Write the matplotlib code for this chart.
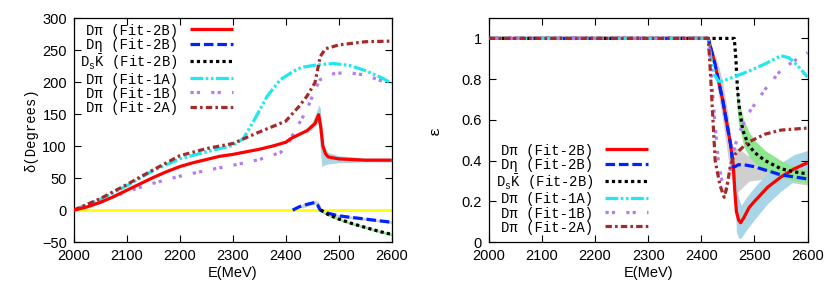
import matplotlib
matplotlib.use("Agg")
import matplotlib.pyplot as plt

plt.rcParams["mathtext.fontset"] = "custom"
plt.rcParams["mathtext.rm"] = "Liberation Mono"
plt.rcParams["mathtext.it"] = "Liberation Mono"

MONO = "Liberation Mono"
SANS = "Liberation Sans"

RED = "#ff0000"
BLUE = "#0022ff"
BLACK = "#000000"
CYAN = "#1ee8f0"
PURPLE = "#b37cf2"
BROWN = "#a52a2a"
YELLOW = "#ffff00"
LIGHTBLUE = "#a9d6e6"
GRAY = "#cfcfcf"
GREEN = "#8ee68e"

labels = ["D\u03c0 (Fit-2B)", "D\u03b7 (Fit-2B)", r"D$_{\rm s}\bar{\rm K}$ (Fit-2B)",
          "D\u03c0 (Fit-1A)", "D\u03c0 (Fit-1B)", "D\u03c0 (Fit-2A)"]

# ---- left panel: phase shift delta (degrees) ----
e_red = [2000, 2025, 2050, 2075, 2100, 2125, 2150, 2175, 2200, 2225, 2250, 2275, 2300, 2325,
         2350, 2375, 2400, 2410, 2420, 2440, 2455, 2462, 2466, 2470, 2475, 2480, 2500, 2550, 2600]
d_red = [0, 5, 12, 21, 31, 41, 51, 60, 68, 74, 79, 84, 87, 91,
         95, 100, 106, 112, 116, 124, 135, 149, 130, 100, 88, 83, 80, 78, 78]

e_blue = [2413, 2425, 2440, 2455, 2460, 2465, 2480, 2500, 2550, 2600]
d_blue = [0, 5, 9, 12, 8, 0, -5, -9, -14, -19]

e_black = [2466, 2480, 2500, 2525, 2550, 2575, 2600]
d_black = [0, -7, -14, -21, -27, -33, -38]

e_cyan = [2000, 2050, 2100, 2150, 2200, 2250, 2300, 2320, 2340, 2365, 2390, 2415,
          2430, 2460, 2490, 2520, 2550, 2580, 2600]
d_cyan = [0, 17, 38, 62, 80, 91, 101, 112, 140, 178, 204, 217,
          223, 227, 229, 226, 218, 207, 198]

e_purple = [2000, 2050, 2100, 2150, 2200, 2250, 2300, 2350, 2390, 2402, 2420, 2440,
            2455, 2465, 2490, 2515, 2550, 2600]
d_purple = [0, 13, 29, 42, 53, 62, 70, 79, 90, 100, 128, 157,
            188, 204, 213, 215, 211, 196]

e_brown = [2000, 2050, 2100, 2150, 2200, 2250, 2300, 2350, 2400, 2425, 2440, 2455,
           2465, 2475, 2500, 2550, 2600]
d_brown = [0, 18, 40, 63, 85, 96, 104, 122, 139, 162, 178, 199,
           240, 252, 258, 263, 264]

e_band_red = [2440, 2450, 2458, 2462, 2465, 2468, 2472, 2480, 2500, 2550, 2600]
d_band_red_lo = [120, 126, 133, 138, 95, 68, 70, 72, 74, 75, 75]
d_band_red_hi = [128, 138, 154, 164, 160, 118, 100, 90, 85, 81, 81]

e_band_blue = [2430, 2445, 2455, 2462, 2470, 2500, 2550, 2600]
d_band_blue_lo = [3, 7, 9, 4, -6, -11, -16, -21]
d_band_blue_hi = [9, 13, 16, 12, -2, -7, -12, -17]

e_band_black = [2466, 2480, 2500, 2525, 2550, 2575, 2600]
d_band_black_lo = [-2, -9, -16, -23, -29, -35, -40]
d_band_black_hi = [0, -5, -12, -19, -25, -31, -36]

# ---- right panel: inelasticity epsilon ----
e_red_r = [2000, 2413, 2425, 2440, 2455, 2460, 2463, 2466, 2470, 2474, 2480, 2490,
           2500, 2525, 2550, 2575, 2600]
eps_red = [1, 1, 0.88, 0.70, 0.48, 0.38, 0.25, 0.15, 0.11, 0.095, 0.12, 0.17,
           0.20, 0.27, 0.32, 0.36, 0.39]

e_blue_r = [2000, 2413, 2425, 2440, 2455, 2460, 2463, 2470, 2480, 2500, 2525, 2550, 2575, 2600]
eps_blue = [1, 1, 0.88, 0.70, 0.48, 0.37, 0.37, 0.38, 0.38, 0.37, 0.35, 0.33, 0.32, 0.31]

e_black_r = [2000, 2462, 2465, 2468, 2472, 2478, 2488, 2500, 2520, 2550, 2575, 2600]
eps_black = [1, 1, 0.90, 0.75, 0.65, 0.55, 0.48, 0.44, 0.40, 0.36, 0.345, 0.335]

e_cyan_r = [2000, 2413, 2418, 2425, 2432, 2440, 2460, 2490, 2520, 2550, 2565, 2580, 2600]
eps_cyan = [1, 1, 0.90, 0.82, 0.79, 0.79, 0.81, 0.84, 0.875, 0.915, 0.905, 0.87, 0.81]

e_purple_r = [2000, 2413, 2418, 2425, 2432, 2440, 2446, 2452, 2460, 2470, 2488, 2520,
              2550, 2575, 2600]
eps_purple = [1, 1, 0.85, 0.60, 0.40, 0.28, 0.25, 0.32, 0.44, 0.53, 0.63, 0.75,
              0.845, 0.89, 0.93]

e_brown_r = [2000, 2413, 2416, 2420, 2426, 2435, 2443, 2448, 2455, 2463, 2488, 2520, 2550, 2600]
eps_brown = [1, 1, 0.88, 0.69, 0.40, 0.28, 0.22, 0.27, 0.38, 0.43, 0.49, 0.53, 0.55, 0.56]

e_band_gray = [2415, 2420, 2430, 2440, 2450, 2458, 2462, 2470, 2490, 2520, 2550, 2600]
eps_band_gray_lo = [0.97, 0.90, 0.76, 0.60, 0.42, 0.30, 0.24, 0.25, 0.30, 0.31, 0.30, 0.28]
eps_band_gray_hi = [1.0, 0.95, 0.89, 0.79, 0.63, 0.47, 0.46, 0.46, 0.42, 0.38, 0.36, 0.34]

e_band_lb = [2462, 2466, 2470, 2475, 2485, 2500, 2525, 2550, 2575, 2600]
eps_band_lb_lo = [0.30, 0.05, 0.02, 0.02, 0.06, 0.11, 0.19, 0.25, 0.30, 0.33]
eps_band_lb_hi = [0.38, 0.30, 0.22, 0.18, 0.22, 0.27, 0.34, 0.39, 0.43, 0.45]

e_band_green = [2466, 2470, 2480, 2490, 2500, 2520, 2550, 2575, 2600]
eps_band_green_lo = [0.70, 0.58, 0.47, 0.42, 0.39, 0.35, 0.32, 0.30, 0.29]
eps_band_green_hi = [0.80, 0.70, 0.60, 0.54, 0.50, 0.45, 0.40, 0.37, 0.35]

STYLES = [
    dict(color=RED, lw=2.3, ls="-"),
    dict(color=BLUE, lw=2.3, dashes=(3, 1.2)),
    dict(color=BLACK, lw=2.3, dashes=(1, 1)),
    dict(color=CYAN, lw=2.3, dashes=(4, 0.8, 0.8, 0.8, 0.8, 0.8)),
    dict(color=PURPLE, lw=2.3, dashes=(1, 1, 1, 3.5)),
    dict(color=BROWN, lw=2.3, dashes=(2, 1, 0.8, 1)),
]


def style_axes(ax):
    ax.set_xlim(2000, 2600)
    ax.set_xticks(range(2000, 2601, 100))
    ax.tick_params(direction="in", top=True, right=True, length=5, width=0.8,
                   labelsize=10.5)
    ax.tick_params(axis="x", pad=5)
    ax.tick_params(axis="y", pad=5)
    for sp in ax.spines.values():
        sp.set_linewidth(0.9)
    ax.set_xlabel("E(MeV)", fontsize=10.5, family=SANS, labelpad=2)


def fix_fonts(ax):
    for lab in ax.get_xticklabels() + ax.get_yticklabels():
        lab.set_fontfamily(SANS)


def add_legend(ax, anchor):
    leg = ax.legend(loc="upper right", bbox_to_anchor=anchor, markerfirst=False,
                    frameon=False, prop={"family": MONO, "size": 10},
                    handlelength=3.1, handletextpad=0.85, labelspacing=0.0,
                    handleheight=1.1, borderpad=0, borderaxespad=0)
    for h in leg.get_lines():
        h.set_solid_capstyle("butt")
        h.set_dash_capstyle("butt")
    return leg


fig = plt.figure(figsize=(8.3, 2.91), dpi=100)
ax1 = fig.add_axes([0.089, 0.168, 0.383, 0.770])
ax2 = fig.add_axes([0.589, 0.168, 0.384, 0.770])

# left panel
ax1.fill_between(e_band_red, d_band_red_lo, d_band_red_hi, color=LIGHTBLUE, lw=0, zorder=1)
ax1.fill_between(e_band_blue, d_band_blue_lo, d_band_blue_hi, color=GRAY, lw=0, zorder=1)
ax1.fill_between(e_band_black, d_band_black_lo, d_band_black_hi, color=GREEN, lw=0, zorder=1)
ax1.axhline(0, color=YELLOW, lw=2, zorder=2)
series_l = [(e_red, d_red), (e_blue, d_blue), (e_black, d_black),
            (e_cyan, d_cyan), (e_purple, d_purple), (e_brown, d_brown)]
for i, ((x, y), st, lab) in enumerate(zip(series_l, STYLES, labels)):
    ax1.plot(x, y, label=lab, solid_capstyle="butt", dash_capstyle="butt",
             zorder=4 if i == 0 else 3, **st)
style_axes(ax1)
ax1.set_ylim(-50, 300)
ax1.set_yticks(range(-50, 301, 50))
ax1.set_yticklabels(["\u221250"] + [str(v) for v in range(0, 301, 50)])
fix_fonts(ax1)
ax1.set_ylabel("\u03b4(Degrees)", fontsize=10, family=MONO, labelpad=3)
add_legend(ax1, (0.50, 0.975))

# right panel
ax2.fill_between(e_band_gray, eps_band_gray_lo, eps_band_gray_hi, color=GRAY, lw=0, zorder=1)
ax2.fill_between(e_band_lb, eps_band_lb_lo, eps_band_lb_hi, color=LIGHTBLUE, lw=0, zorder=1)
ax2.fill_between(e_band_green, eps_band_green_lo, eps_band_green_hi, color=GREEN, lw=0, zorder=1)
series_r = [(e_red_r, eps_red), (e_blue_r, eps_blue), (e_black_r, eps_black),
            (e_cyan_r, eps_cyan), (e_purple_r, eps_purple), (e_brown_r, eps_brown)]
for (x, y), st, lab in zip(series_r, STYLES, labels):
    ax2.plot(x, y, label=lab, solid_capstyle="butt", dash_capstyle="butt", zorder=3, **st)
style_axes(ax2)
ax2.set_ylim(0, 1.1)
ax2.set_yticks([0, 0.2, 0.4, 0.6, 0.8, 1])
ax2.set_yticklabels(["0", "0.2", "0.4", "0.6", "0.8", "1"])
fix_fonts(ax2)
ax2.set_ylabel("\u03b5", fontsize=11, family=MONO, labelpad=14)
add_legend(ax2, (0.50, 0.44))

fig.savefig("out.png", dpi=100)
